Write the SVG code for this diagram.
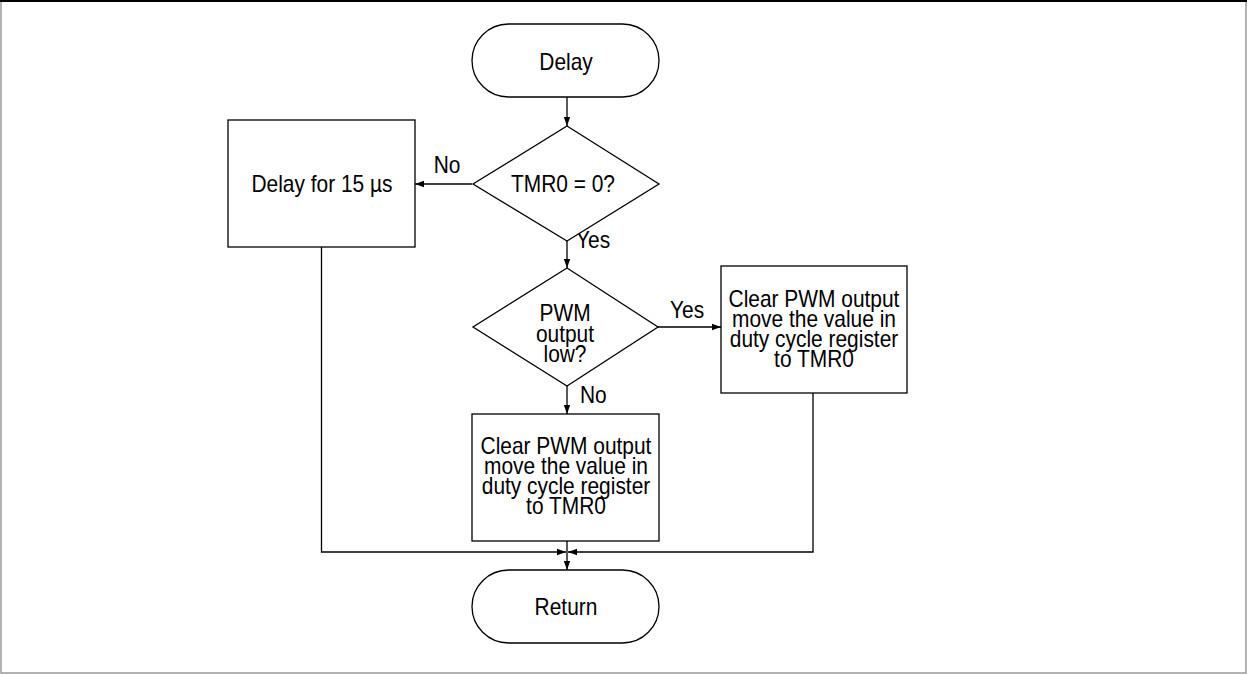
<svg xmlns="http://www.w3.org/2000/svg" width="1247" height="674" viewBox="0 0 1247 674">
<style>
.shape{fill:#fff;stroke:#000;stroke-width:1.3}
.conn{fill:none;stroke:#000;stroke-width:1.3}
.t{font-family:"Liberation Sans",Arial,sans-serif;font-size:23px;fill:#000;text-anchor:middle}
.l{font-family:"Liberation Sans",Arial,sans-serif;font-size:23px;fill:#000;text-anchor:start}
</style>
<defs>
<marker id="ah" markerWidth="10" markerHeight="8" refX="9" refY="4" orient="auto" markerUnits="userSpaceOnUse">
<path d="M0,0.8 L9,4 L0,7.2 Z" fill="#000"/>
</marker>
</defs>
<rect x="0" y="0" width="1247" height="674" fill="#fff"/>
<rect x="1" y="1" width="1245" height="672" fill="none" stroke="#999" stroke-width="1.5"/>
<line x1="0" y1="1" x2="1247" y2="1" stroke="#000" stroke-width="2"/>

<g id="connectors">
<line class="conn" x1="567" y1="97" x2="567" y2="126" marker-end="url(#ah)"/>
<line class="conn" x1="567" y1="241" x2="567" y2="268" marker-end="url(#ah)"/>
<line class="conn" x1="472" y1="184" x2="415" y2="184" marker-end="url(#ah)"/>
<line class="conn" x1="658" y1="327" x2="721" y2="327" marker-end="url(#ah)"/>
<line class="conn" x1="567" y1="386" x2="567" y2="414" marker-end="url(#ah)"/>
<polyline class="conn" points="321.5,247 321.5,552 566,552" marker-end="url(#ah)"/>
<polyline class="conn" points="813,393 813,552 568,552" marker-end="url(#ah)"/>
<line class="conn" x1="567" y1="541" x2="567" y2="570" marker-end="url(#ah)"/>
<g transform="translate(447,173) scale(0.91,1)"><text class="t" x="0" y="0">No</text></g>
<g transform="translate(576,248) scale(0.91,1)"><text class="l" x="0" y="0">Yes</text></g>
<g transform="translate(670,318) scale(0.91,1)"><text class="l" x="0" y="0">Yes</text></g>
<g transform="translate(580,403) scale(0.91,1)"><text class="l" x="0" y="0">No</text></g>
</g>

<g id="start">
<rect class="shape" x="472" y="24" width="187" height="73" rx="36.5" ry="36.5"/>
<g transform="translate(566,70) scale(0.91,1)"><text class="t" x="0" y="0">Delay</text></g>
</g>

<g id="decision-tmr0">
<polygon class="shape" points="567,126 659,184 567,241 473,184"/>
<g transform="translate(563,192) scale(0.91,1)"><text class="t" x="0" y="0">TMR0 = 0?</text></g>
</g>

<g id="delay-15us">
<rect class="shape" x="228" y="120" width="187" height="127"/>
<g transform="translate(322,192) scale(0.91,1)"><text class="t" x="0" y="0">Delay for 15 µs</text></g>
</g>

<g id="decision-pwm">
<polygon class="shape" points="567,268 658,327 567,386 473,327"/>
<g transform="translate(565,0) scale(0.91,1)">
<text class="t" x="0" y="321">PWM</text>
<text class="t" x="0" y="342">output</text>
<text class="t" x="0" y="362">low?</text>
</g>
</g>

<g id="clear-right">
<rect class="shape" x="721" y="266" width="186" height="127"/>
<g transform="translate(814,0) scale(0.91,1)">
<text class="t" x="0" y="307">Clear PWM output</text>
<text class="t" x="0" y="327">move the value in</text>
<text class="t" x="0" y="347">duty cycle register</text>
<text class="t" x="0" y="367">to TMR0</text>
</g>
</g>

<g id="clear-bottom">
<rect class="shape" x="472" y="414" width="187" height="127"/>
<g transform="translate(566,0) scale(0.91,1)">
<text class="t" x="0" y="454">Clear PWM output</text>
<text class="t" x="0" y="474">move the value in</text>
<text class="t" x="0" y="494">duty cycle register</text>
<text class="t" x="0" y="514">to TMR0</text>
</g>
</g>

<g id="end">
<rect class="shape" x="472" y="570" width="187" height="73" rx="36.5" ry="36.5"/>
<g transform="translate(566,615) scale(0.91,1)"><text class="t" x="0" y="0">Return</text></g>
</g>
</svg>
